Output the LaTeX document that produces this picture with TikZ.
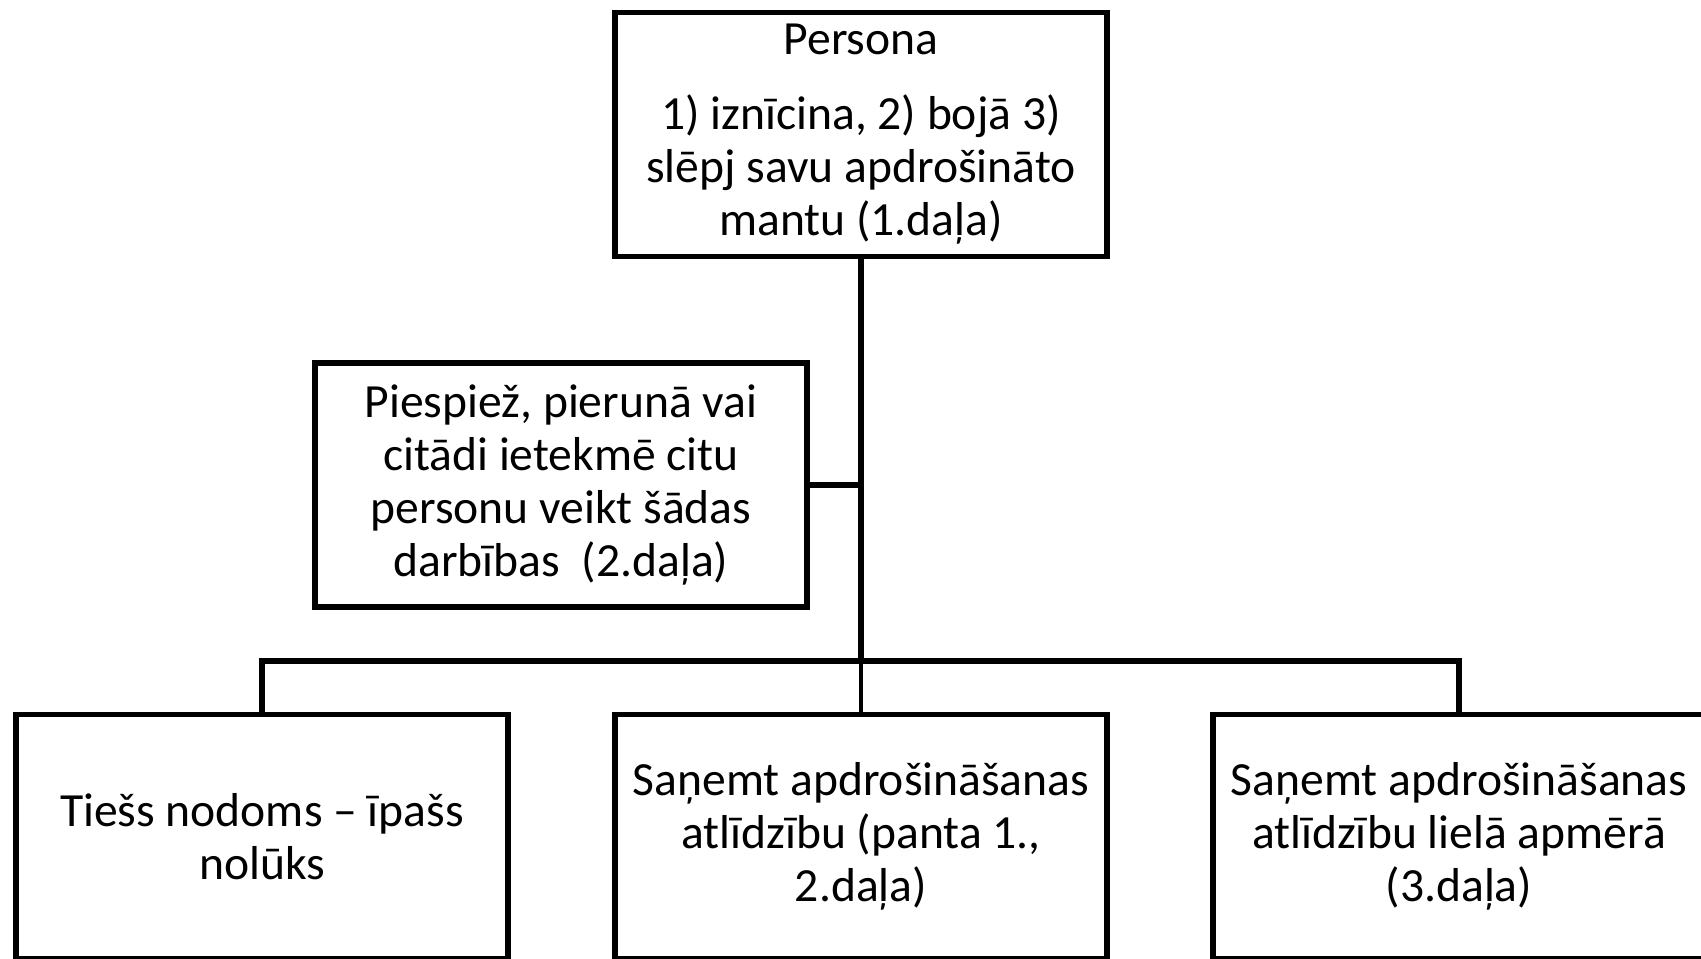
\documentclass[tikz,border=0pt]{standalone}
\usepackage{fontspec}
\setmainfont{Carlito}
\usepackage{tikz}
\usetikzlibrary{positioning}
\tikzset{
    box/.style = {rectangle, draw=black, align=center, line width=2.8pt, inner sep=0pt,
                  minimum width=246pt, minimum height=122pt,
                  font=\fontsize{23.8}{26.5}\selectfont},
    link/.style = {-, line width=2.8pt, black},
    linkthin/.style = {-, line width=1.7pt, black},
}
\begin{document}
\begin{tikzpicture}[x=0.5pt, y=-0.5pt]
\useasboundingbox (0,0) rectangle (1701,958);
\node[box] at (861,134.5) (persona) {Persona\\[11pt]1) iznīcina, 2) bojā 3)\\slēpj savu apdrošināto\\mantu (1.daļa)};
\node[box] at (561,485) (piespiez) {Piespiež, pierunā vai\\citādi ietekmē citu\\personu veikt šādas\\darbības \ (2.daļa)};
\node[box] at (262,836.5) (nodoms) {Tiešs nodoms – īpašs\\nolūks};
\node[box] at (861,836.5) (atlidziba) {Saņemt apdrošināšanas\\atlīdzību (panta 1.,\\2.daļa)};
\node[box] at (1459,836.5) (liela) {Saņemt apdrošināšanas\\atlīdzību lielā apmērā\\(3.daļa)};
\coordinate (bus) at (861,661);
%
\draw[link] (persona) -- (bus);
\draw[link] (piespiez.east) -- (piespiez.east -| persona.south);
\draw[link] (nodoms.north) |- (bus) -| (liela.north);
\draw[linkthin] (bus) -- (atlidziba.north);
\end{tikzpicture}
\end{document}
